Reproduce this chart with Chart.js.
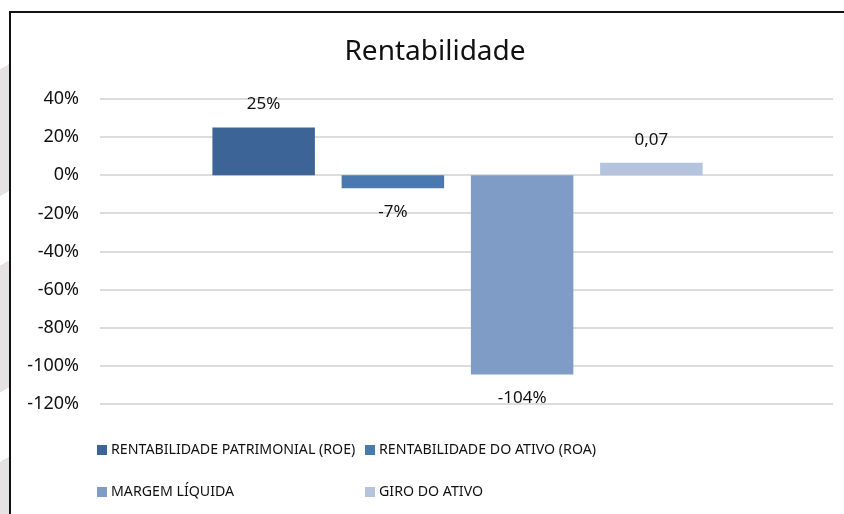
<!DOCTYPE html>
<html>
<head>
<meta charset="utf-8">
<script src="https://cdn.jsdelivr.net/npm/chart.js@4.4.1/dist/chart.umd.min.js"></script>
<style>
  html, body { margin: 0; padding: 0; }
  body { width: 844px; height: 514px; overflow: hidden; position: relative; background: #fff; }
  #strip {
    position: absolute; left: 0; top: 0; width: 9px; height: 514px;
    background: repeating-linear-gradient(150deg, #ffffff 0 60px, #e6e2e4 60px 170px);
  }
  #frame {
    position: absolute; left: 9px; top: 11px; width: 835px; height: 503px;
    border-left: 2px solid #111; border-top: 2px solid #111; background: #fff;
  }
  #wrap { position: absolute; left: 0; top: 0; width: 833px; height: 501px; }
  #legend {
    position: absolute; left: 86px; top: 415px; width: 600px;
    display: grid; grid-template-columns: 268px 300px;
    font-family: "Noto Sans", sans-serif; font-size: 14.2px; color: #111;
  }
  #legend div { height: 42px; line-height: 42px; white-space: nowrap; }
  #legend span.box { display: inline-block; width: 10px; height: 10px; margin-right: 4px; vertical-align: -0.5px; }
</style>
</head>
<body>
<div id="strip"></div>
<div id="frame">
  <div id="wrap"><canvas id="rentChart"></canvas></div>
  <div id="legend"></div>
</div>
<script>
// data
const chartTitle = 'Rentabilidade';
const categories = ['Rentabilidade'];
const seriesNames = ['RENTABILIDADE PATRIMONIAL (ROE)', 'RENTABILIDADE DO ATIVO (ROA)', 'MARGEM LÍQUIDA', 'GIRO DO ATIVO'];
const seriesValues = [0.25, -0.068, -1.045, 0.066];
const valueLabels = ['25%', '-7%', '-104%', '0,07'];
const seriesColors = ['#3c6496', '#4a79b0', '#7f9cc6', '#b4c3de'];
const yTicks = [0.4, 0.2, 0, -0.2, -0.4, -0.6, -0.8, -1.0, -1.2];

const FONT = '"Noto Sans", sans-serif';

// gridlines drawn across to the right edge of the frame
const gridPlugin = {
  id: 'grid',
  beforeDatasetsDraw(chart) {
    const y = chart.scales.y, ctx = chart.ctx, a = chart.chartArea;
    ctx.save();
    ctx.strokeStyle = '#dcdcdc';
    ctx.lineWidth = 2;
    yTicks.forEach(v => {
      const py = Math.round(y.getPixelForValue(v));
      ctx.beginPath();
      ctx.moveTo(a.left, py);
      ctx.lineTo(a.right + 18, py);
      ctx.stroke();
    });
    ctx.restore();
  }
};

// title centred on the whole frame, value labels on the bars
const labelPlugin = {
  id: 'valueLabels',
  afterDatasetsDraw(chart) {
    const ctx = chart.ctx;
    ctx.save();
    ctx.fillStyle = '#111';
    ctx.textAlign = 'center';
    ctx.textBaseline = 'middle';
    ctx.font = '28px ' + FONT;
    ctx.fillText(chartTitle, 424, 39);
    ctx.font = '17px ' + FONT;
    chart.data.datasets.forEach((ds, i) => {
      const bar = chart.getDatasetMeta(i).data[0];
      const v = ds.data[0];
      const py = v >= 0 ? bar.y - 23 : bar.y + 24;
      ctx.fillText(valueLabels[i], bar.x, py);
    });
    ctx.restore();
  }
};

new Chart(document.getElementById('rentChart'), {
  type: 'bar',
  data: {
    labels: categories,
    datasets: seriesNames.map((name, i) => ({
      label: name,
      data: [seriesValues[i]],
      backgroundColor: seriesColors[i],
      categoryPercentage: 0.723,
      barPercentage: 0.793
    }))
  },
  options: {
    responsive: true,
    maintainAspectRatio: false,
    animation: false,
    layout: { padding: { left: 0, right: 29, top: 86, bottom: 110 } },
    plugins: {
      legend: { display: false },
      tooltip: { enabled: false },
      title: { display: false }
    },
    scales: {
      x: { display: false },
      y: {
        min: -1.2, max: 0.4,
        afterFit(scale) { scale.width = 89; },
        grid: { display: false, drawTicks: false },
        border: { display: false },
        ticks: {
          stepSize: 0.2,
          padding: 21,
          color: '#111',
          font: { family: FONT, size: 18 },
          callback: v => Math.round(v * 100) + '%'
        }
      }
    }
  },
  plugins: [gridPlugin, labelPlugin]
});

// legend in two aligned columns
const legendEl = document.getElementById('legend');
seriesNames.forEach((name, i) => {
  const d = document.createElement('div');
  d.innerHTML = '<span class="box" style="background:' + seriesColors[i] + '"></span>' + name;
  legendEl.appendChild(d);
});
</script>
</body>
</html>
